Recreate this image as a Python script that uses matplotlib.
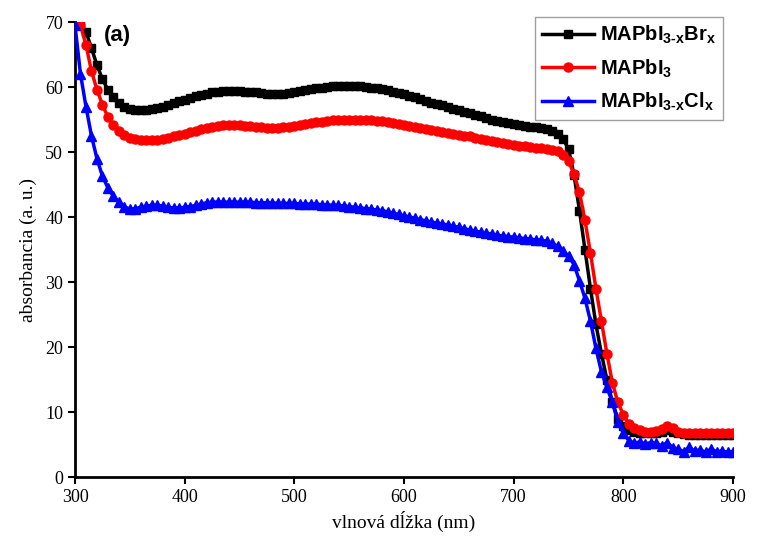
import numpy as np
import matplotlib
matplotlib.use("Agg")
from matplotlib import pyplot as plt

# wavelength grids (nm)
wl_br = list(range(305, 905, 5))
wl_i3 = list(range(305, 905, 5))
wl_cl = list(range(300, 905, 5))

# MAPbI3-xBrx
abs_br = [70.0, 68.5, 66.0, 63.4, 61.2, 59.6, 58.4, 57.6, 57.0, 56.7,
          56.5, 56.4, 56.5, 56.6, 56.8, 57.0, 57.2, 57.5, 57.8, 58.0,
          58.3, 58.6, 58.8, 59.0, 59.2, 59.3, 59.4, 59.4, 59.4, 59.4,
          59.3, 59.3, 59.2, 59.1, 59.0, 58.9, 58.9, 59.0, 59.1, 59.3,
          59.4, 59.6, 59.7, 59.8, 59.9, 60.0, 60.1, 60.2, 60.2, 60.2,
          60.1, 60.1, 60.0, 59.9, 59.8, 59.7, 59.5, 59.3, 59.1, 58.9,
          58.6, 58.4, 58.1, 57.9, 57.6, 57.4, 57.2, 57.0, 56.7, 56.5,
          56.2, 56.0, 55.7, 55.5, 55.2, 55.0, 54.8, 54.6, 54.4, 54.3,
          54.1, 54.0, 53.9, 53.8, 53.7, 53.5, 53.3, 52.8, 52.0, 50.5,
          46.5, 41.0, 35.0, 29.0, 23.5, 19.0, 15.0, 11.5, 9.0, 7.8,
          7.2, 7.0, 6.8, 6.7, 6.7, 6.8, 7.0, 7.2, 7.0, 6.7,
          6.6, 6.5, 6.5, 6.5, 6.5, 6.5, 6.5, 6.5, 6.5, 6.5]

# MAPbI3
abs_i3 = [69.5, 66.5, 62.5, 59.6, 57.3, 55.4, 54.1, 53.2, 52.6, 52.2,
          52.0, 51.9, 51.8, 51.8, 51.9, 52.0, 52.2, 52.4, 52.6, 52.8,
          53.1, 53.3, 53.5, 53.7, 53.9, 54.0, 54.1, 54.1, 54.1, 54.1,
          54.0, 54.0, 53.9, 53.8, 53.7, 53.7, 53.7, 53.8, 53.9, 54.0,
          54.2, 54.3, 54.5, 54.6, 54.7, 54.8, 54.9, 54.9, 55.0, 55.0,
          55.0, 55.0, 54.9, 54.9, 54.8, 54.8, 54.6, 54.5, 54.3, 54.2,
          54.0, 53.9, 53.7, 53.6, 53.4, 53.3, 53.1, 53.0, 52.8, 52.7,
          52.5, 52.4, 52.2, 52.0, 51.9, 51.7, 51.5, 51.4, 51.2, 51.1,
          51.0, 50.9, 50.8, 50.7, 50.6, 50.5, 50.3, 50.1, 49.6, 48.6,
          46.6, 43.8, 39.5, 34.5, 29.0, 24.0, 19.0, 14.5, 11.5, 9.6,
          8.2, 7.5, 7.2, 7.0, 7.0, 7.1, 7.4, 7.8, 7.6, 7.0,
          6.8, 6.8, 6.7, 6.7, 6.7, 6.7, 6.7, 6.7, 6.7, 6.7]

# MAPbI3-xClx
abs_cl = [69.5, 62.0, 57.0, 52.5, 49.0, 46.3, 44.5, 43.2, 42.3, 41.6, 41.2,
          41.3, 41.5, 41.7, 41.8, 41.8, 41.7, 41.5, 41.4, 41.4, 41.5,
          41.6, 41.8, 42.0, 42.2, 42.3, 42.3, 42.3, 42.3, 42.3, 42.3,
          42.3, 42.3, 42.2, 42.2, 42.2, 42.2, 42.1, 42.1, 42.1, 42.1,
          42.0, 42.0, 42.0, 42.0, 41.9, 41.9, 41.8, 41.8, 41.7, 41.6,
          41.5, 41.4, 41.3, 41.2, 41.1, 41.0, 40.8, 40.6, 40.4, 40.2,
          40.0, 39.8, 39.6, 39.4, 39.2, 39.1, 38.9, 38.8, 38.6, 38.4,
          38.2, 38.0, 37.8, 37.7, 37.5, 37.4, 37.2, 37.1, 37.0, 36.9,
          36.8, 36.7, 36.6, 36.5, 36.4, 36.3, 36.0, 35.5, 34.8, 34.0,
          32.7, 30.2, 27.5, 24.0, 19.8, 16.2, 13.8, 11.5, 8.5, 6.8,
          5.6, 5.2, 5.4, 5.1, 5.3, 5.2, 4.8, 5.3, 4.5, 4.3,
          3.9, 4.6, 4.0, 4.2, 3.8, 4.3, 3.9, 4.0, 3.8, 3.9]

labels = [r"MAPbI$_{\mathbf{3\text{-}x}}$Br$_{\mathbf{x}}$",
          r"MAPbI$_{\mathbf{3}}$",
          r"MAPbI$_{\mathbf{3\text{-}x}}$Cl$_{\mathbf{x}}$"]

plt.rcParams["mathtext.fontset"] = "custom"
plt.rcParams["mathtext.bf"] = "Liberation Sans:bold"
plt.rcParams["mathtext.rm"] = "Liberation Sans:bold"

fig = plt.figure(figsize=(7.63, 5.39), dpi=100)
ax = fig.add_axes([0.0983, 0.115, 0.8624, 0.844])

ax.plot(wl_br, abs_br, color="black", marker="s", ms=5.5, lw=2.5, label=labels[0], zorder=3)
ax.plot(wl_i3, abs_i3, color="#ff0000", marker="o", ms=6.5, lw=2.5, label=labels[1], zorder=4)
ax.plot(wl_cl, abs_cl, color="#0000ff", marker="^", ms=6.5, lw=2.5, label=labels[2], zorder=5)

ax.set_xlim(300, 900)
ax.set_ylim(0, 70)
ax.set_xticks(range(300, 1000, 100))
ax.set_yticks(range(0, 80, 10))
for s in ["top", "right"]:
    ax.spines[s].set_visible(False)
for s in ["left", "bottom"]:
    ax.spines[s].set_linewidth(2)
ax.tick_params(direction="out", length=5, width=1.5, labelsize=13)
for lab in ax.get_xticklabels() + ax.get_yticklabels():
    lab.set_family("Liberation Serif")

ax.set_xlabel("vlnová dĺžka (nm)", family="Liberation Serif", fontsize=14, labelpad=4)
ax.set_ylabel("absorbancia (a. u.)", family="Liberation Serif", fontsize=14, labelpad=6)

ax.text(326, 69.6, "(a)", family="Liberation Sans", weight="bold", fontsize=16, va="top", ha="left")

leg = ax.legend(loc="upper right", bbox_to_anchor=(0.985, 1.011), borderaxespad=0,
                frameon=True, fancybox=False,
                prop={"family": "Liberation Sans", "weight": "bold", "size": 14.5},
                handlelength=2.6, handletextpad=0.3, labelspacing=0.55, borderpad=0.35)
leg.get_frame().set_edgecolor("#888888")
leg.get_frame().set_linewidth(1)

fig.savefig("out.png", dpi=100)
